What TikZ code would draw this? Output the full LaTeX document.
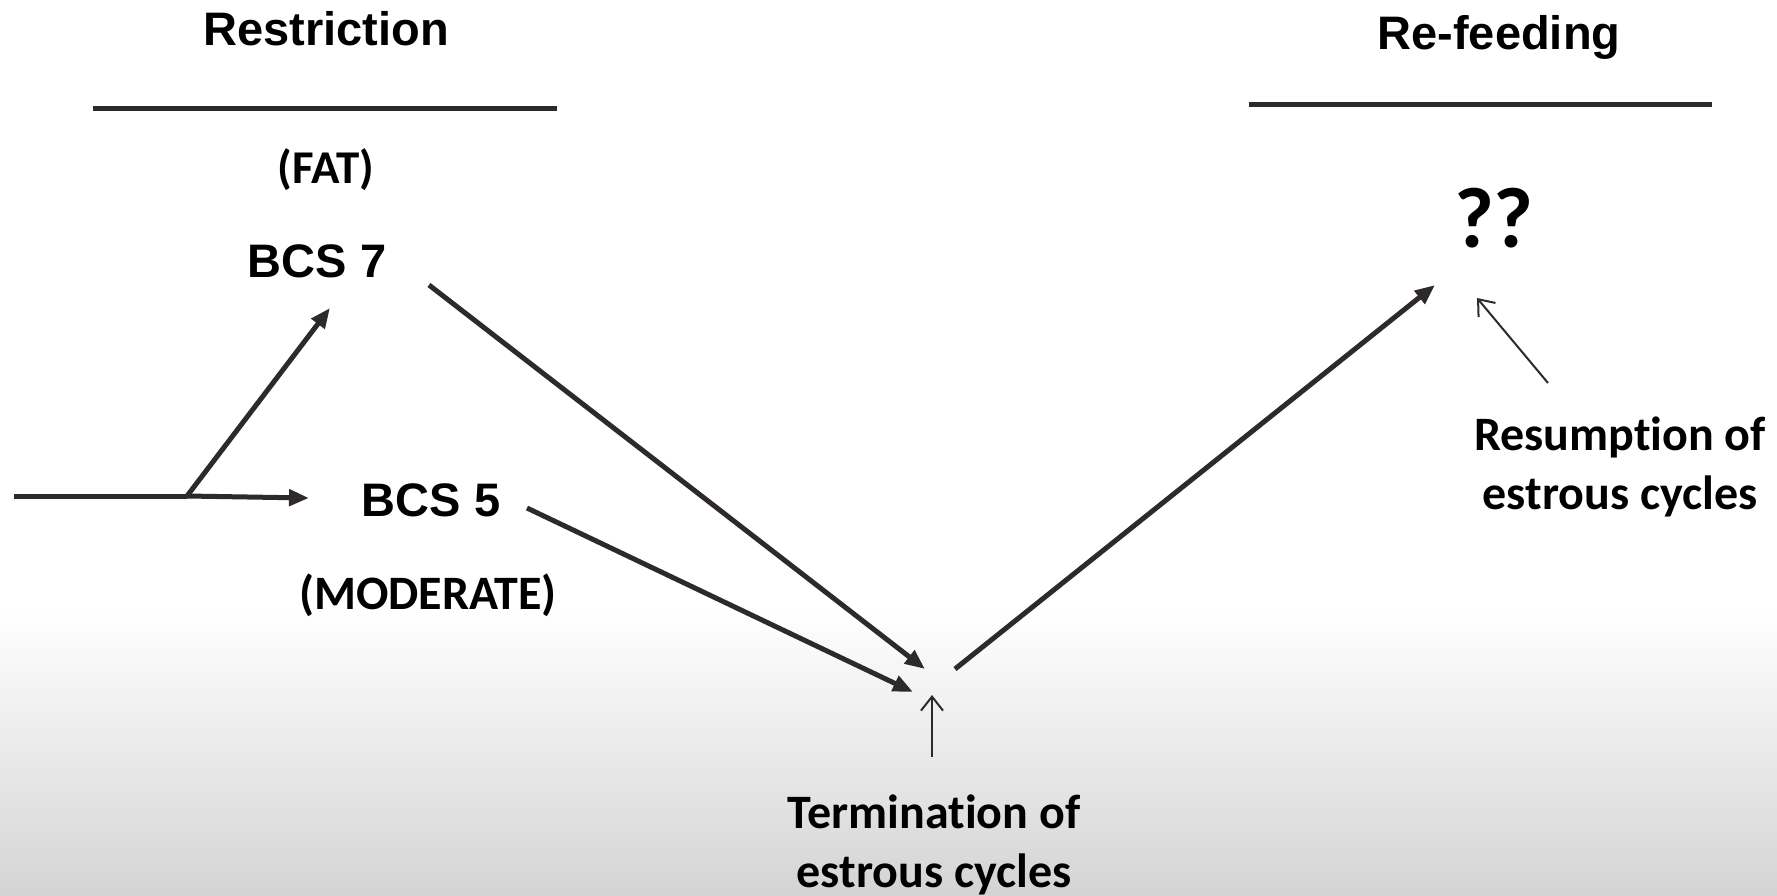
\documentclass[tikz,border=0pt]{standalone}
\usepackage{fontspec}
\setmainfont{Liberation Sans}
\newfontfamily\calib[Ligatures=NoCommon]{Carlito}
\usetikzlibrary{arrows.meta, positioning, calc}
\definecolor{lineDark}{HTML}{2F2A2A}
\definecolor{bgLow}{HTML}{D4D4D4}

\begin{document}
\begin{tikzpicture}[
  x=1pt, y=-1pt,
  head/.style={anchor=base, inner sep=0pt, font=\fontsize{47}{56}\selectfont\bfseries},
  note/.style={anchor=base, inner sep=0pt, align=center, font=\fontsize{48}{59}\selectfont\calib\bfseries},
  rule/.style={line width=5pt, draw=lineDark},
  flow/.style={-{Triangle[length=20pt, width=16pt]}, line width=5pt, draw=lineDark},
  hint/.style={-{Straight Barb[length=14pt, width=22pt]}, line width=2pt, draw=lineDark}
]
\useasboundingbox (0,0) rectangle (1777,895);
\fill[white] (0,0) rectangle (1777,895);
\shade[top color=white, bottom color=bgLow] (0,610) rectangle (1777,895);

\node[head] (restr) at (326,45) {Restriction};
\node[head] (refeed) at (1499,49) {Re-feeding};
\node[note, font=\fontsize{47}{59}\selectfont\calib\bfseries] (fat) at (326,183) {(FAT)};
\node[head] (bcs7) at (317,277) {BCS 7};
\node[head] (bcs5) at (431,516) {BCS 5};
\node[note] (moder) at (428,609) {(MODERATE)};
\node[note, font=\fontsize{86}{86}\selectfont\calib\bfseries] (qq) at (1494,247) {??};
\node[note] (resum) at (1620,509) {Resumption of\\estrous cycles};
\node[note] (term) at (934,887) {Termination of\\estrous cycles};

\draw[rule] (93,108) -- (557,108);
\draw[rule] (1249,104) -- (1712,104);

\coordinate (src) at (14,496);
\coordinate (fork) at (187,496);
\coordinate (to5) at (309,498);
\coordinate (to7) at (330,308);
\coordinate (from7) at (429,285);
\coordinate (from5) at (527,508);
\coordinate (low7) at (925,669);
\coordinate (low5) at (913,692);
\coordinate (rise) at (955,669);
\coordinate (peak) at (1435,285);
\coordinate (termfoot) at (932,757);
\coordinate (termtip) at (932,695);
\coordinate (resumfoot) at (1548,383);
\coordinate (resumtip) at (1477,298);

\draw[rule] (src) -- (fork);
\draw[flow] (fork) -- (to5);
\draw[flow] (fork) -- (to7);
\draw[flow] (from7) -- (low7);
\draw[flow] (from5) -- (low5);
\draw[flow] (rise) -- (peak);
\draw[hint] (termfoot) -- (termtip);
\draw[hint] (resumfoot) -- (resumtip);
\end{tikzpicture}
\end{document}
